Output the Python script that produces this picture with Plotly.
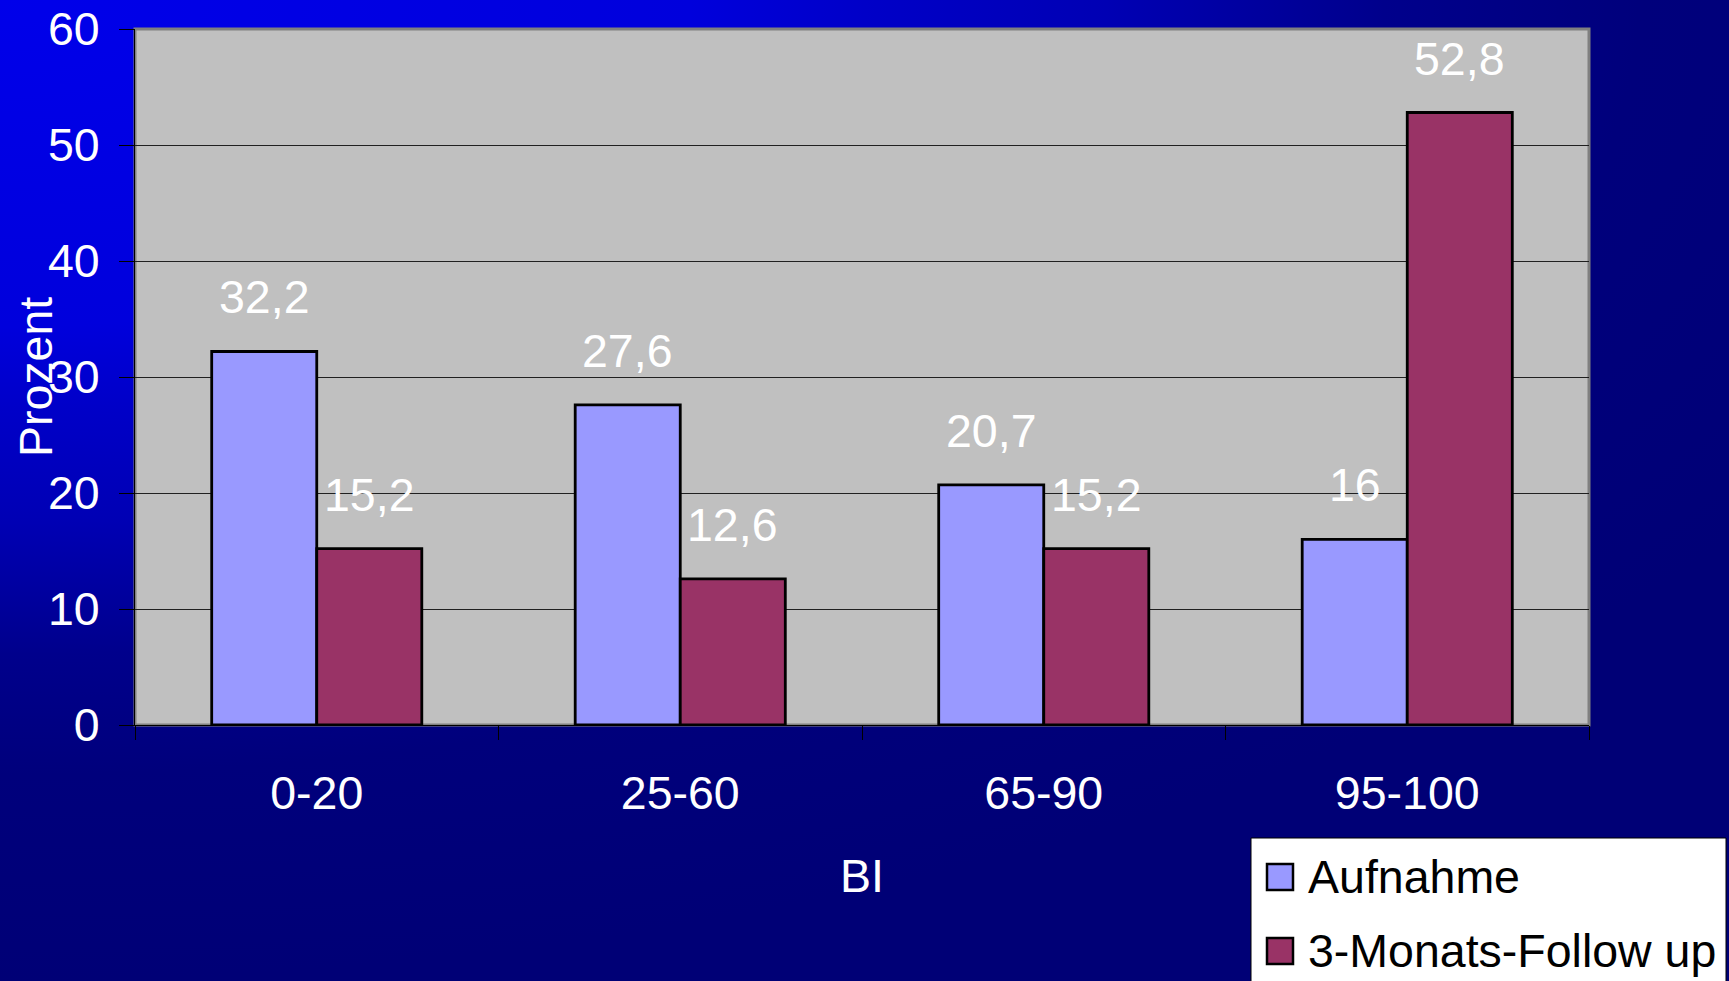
import base64
import plotly.graph_objects as go

# ---- data ----
categories = ["0-20", "25-60", "65-90", "95-100"]
series_names = ["Aufnahme", "3-Monats-Follow up"]
aufnahme = [32.2, 27.6, 20.7, 16]
follow_up = [15.2, 12.6, 15.2, 52.8]
y_ticks = [0, 10, 20, 30, 40, 50, 60]
colors = ["#9999FF", "#993366"]

W, H = 1729, 981
L, R, T, B = 135, 140, 29, 256
PW, PH = W - L - R, H - T - B
FONT = "Liberation Sans, Arial, sans-serif"
FS = 46.5


def px_x(px):
    return (px - L) / PW


def px_y(py):
    return (H - B - py) / PH


def fmt(v):
    return f"{v:g}".replace(".", ",")


fig = go.Figure()
for name, vals, col in zip(series_names, [aufnahme, follow_up], colors):
    fig.add_trace(go.Bar(
        x=categories, y=vals, name=name,
        marker=dict(color=col, line=dict(color="black", width=2.8)),
        showlegend=False,
    ))

# value labels above bars
bar_px = PW / len(categories) * (1 - 0.422) / 2
annotations = []
for k, vals in enumerate([aufnahme, follow_up]):
    shift = (-0.5 if k == 0 else 0.5) * bar_px
    for c, v in zip(categories, vals):
        annotations.append(dict(
            x=c, y=v, xref="x", yref="y", text=fmt(v), showarrow=False,
            xshift=shift, yshift=54, xanchor="center", yanchor="middle",
            font=dict(family=FONT, size=FS, color="white"),
        ))

# axis titles
annotations.append(dict(
    x=px_x(36), y=px_y(377), xref="paper", yref="paper", text="Prozent",
    textangle=-90, showarrow=False, xanchor="center", yanchor="middle",
    font=dict(family=FONT, size=FS, color="white"),
))
annotations.append(dict(
    x=px_x(862), y=px_y(876), xref="paper", yref="paper", text="BI",
    showarrow=False, xanchor="center", yanchor="middle",
    font=dict(family=FONT, size=FS, color="white"),
))

# manual legend
shapes = [
    dict(type="rect", xref="paper", yref="paper", layer="below",
         x0=0, x1=1, y0=0, y1=1, fillcolor="#C0C0C0",
         line=dict(color="#808080", width=3)),
    dict(type="rect", xref="paper", yref="paper", layer="above",
         x0=px_x(1251), x1=px_x(1726), y0=px_y(838), y1=px_y(995),
         fillcolor="white", line=dict(color="black", width=1)),
]
for i, (name, col) in enumerate(zip(series_names, colors)):
    cy = 877 + i * 74
    shapes.append(dict(type="rect", xref="paper", yref="paper", layer="above",
                       x0=px_x(1267), x1=px_x(1293), y0=px_y(cy - 13), y1=px_y(cy + 13),
                       fillcolor=col, line=dict(color="black", width=2.5)))
    annotations.append(dict(
        x=px_x(1306), y=px_y(cy), xref="paper", yref="paper", text=name,
        showarrow=False, xanchor="left", yanchor="middle",
        font=dict(family=FONT, size=FS, color="black"),
    ))

# gradient background as svg image
svg = f'''<svg xmlns="http://www.w3.org/2000/svg" width="{W}" height="{H}" viewBox="0 0 {W} {H}" preserveAspectRatio="none">
<defs><radialGradient id="g" cx="0" cy="0" r="1.2" fx="0" fy="0" gradientTransform="scale(1,0.8333)">
<stop offset="0" stop-color="#0000EA"/>
<stop offset="0.333" stop-color="#0000DC"/>
<stop offset="0.417" stop-color="#0000C8"/>
<stop offset="0.533" stop-color="#0000B4"/>
<stop offset="0.667" stop-color="#00008C"/>
<stop offset="0.79" stop-color="#00007C"/>
<stop offset="1" stop-color="#000076"/>
</radialGradient></defs>
<rect x="0" y="0" width="{W}" height="{H}" fill="url(#g)"/></svg>'''
src = "data:image/svg+xml;base64," + base64.b64encode(svg.encode()).decode()

fig.update_layout(
    width=W, height=H, autosize=False,
    margin=dict(l=L, r=R, t=T, b=B, pad=0, autoexpand=False),
    paper_bgcolor="#000080",
    plot_bgcolor="rgba(0,0,0,0)",
    barmode="group", bargap=0.422, bargroupgap=0,
    showlegend=False,
    annotations=annotations,
    shapes=shapes,
    images=[dict(source=src, xref="paper", yref="paper",
                 x=-L / PW, y=1 + T / PH, sizex=W / PW, sizey=H / PH,
                 xanchor="left", yanchor="top", sizing="stretch", layer="below")],
)
fig.update_yaxes(
    range=[0, 60], tickvals=y_ticks, ticktext=[str(t) for t in y_ticks],
    showgrid=True, gridcolor="#202020", gridwidth=1,
    ticks="outside", ticklen=15, tickcolor="black", tickwidth=1,
    showline=True, linecolor="black", linewidth=1,
    tickfont=dict(family=FONT, size=FS, color="white"),
    ticklabelstandoff=10, zeroline=False, fixedrange=True, automargin=False,
)
fig.update_xaxes(
    showgrid=False, tickson="boundaries",
    ticks="outside", ticklen=14, tickcolor="black", tickwidth=1,
    showline=True, linecolor="black", linewidth=1,
    tickfont=dict(family=FONT, size=FS, color="white"),
    ticklabelstandoff=27, fixedrange=True, automargin=False,
)

fig.write_html("out.html")
